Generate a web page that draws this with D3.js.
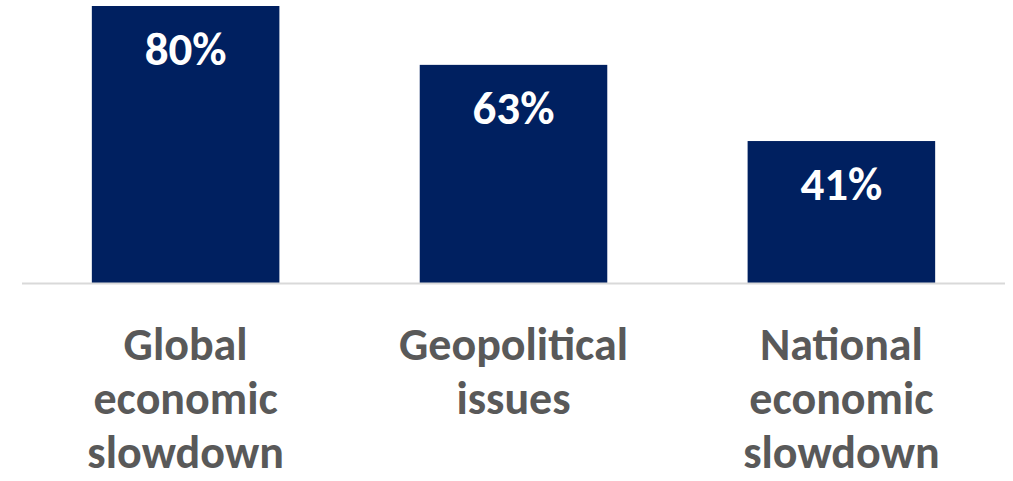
<!DOCTYPE html>
<html><head><meta charset="utf-8">
<script src="https://cdn.jsdelivr.net/npm/d3@7"></script>
<style>body{margin:0;background:#fff}svg{display:block}</style>
</head><body>
<svg id="chart" width="1013" height="481"></svg>
<script>
const categories = ["Global economic slowdown", "Geopolitical issues", "National economic slowdown"];
const categoryLines = [["Global", "economic", "slowdown"], ["Geopolitical", "issues"], ["National", "economic", "slowdown"]];
const values = [80, 63, 41];
const valueLabels = ["80%", "63%", "41%"];

const svg = d3.select("#chart");
const font = "Carlito, Calibri, Lato, 'Open Sans', sans-serif";
const x = d3.scaleBand().domain(categories).range([22, 1005]).paddingInner(0.428).paddingOuter(0.213);
const y = d3.scaleLinear().domain([0, 80]).range([283, 6]);

svg.selectAll("rect.bar").data(values).join("rect")
  .attr("class", "bar")
  .attr("x", (d, i) => x(categories[i]))
  .attr("y", d => y(d))
  .attr("width", x.bandwidth())
  .attr("height", d => y(0) - y(d))
  .attr("fill", "#002060");

svg.append("line").attr("x1", 22).attr("x2", 1005).attr("y1", y(0) + 0.5).attr("y2", y(0) + 0.5)
  .attr("stroke", "#d9d9d9").attr("stroke-width", 2);

svg.selectAll("text.val").data(values).join("text")
  .attr("class", "val")
  .attr("x", (d, i) => x(categories[i]) + x.bandwidth() / 2)
  .attr("y", d => y(d) + 59)
  .attr("text-anchor", "middle")
  .attr("fill", "#fff")
  .attr("font-family", font).attr("font-weight", "bold").attr("font-size", 47)
  .text((d, i) => valueLabels[i]);

const labels = svg.selectAll("text.cat").data(categories).join("text")
  .attr("class", "cat")
  .attr("text-anchor", "middle")
  .attr("fill", "#595959")
  .attr("font-family", font).attr("font-weight", "bold").attr("font-size", 46);
labels.each(function(c, i) {
  const t = d3.select(this);
  categoryLines[i].forEach((ln, j) => {
    t.append("tspan").attr("x", x(c) + x.bandwidth() / 2).attr("y", 360 + j * 54).text(ln);
  });
});
</script>
</body></html>
